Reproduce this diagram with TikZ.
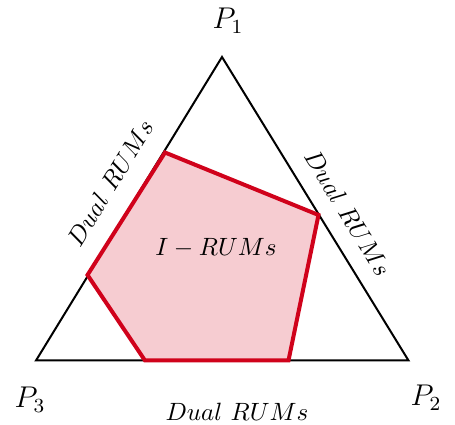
\documentclass[tikz,border=0pt]{standalone}
\usepackage{amsmath}
\usepackage{tikz}
\usetikzlibrary{positioning}
\definecolor{RUM_Red}{HTML}{D0021B}

\begin{document}
\begin{tikzpicture}[x=0.4pt, y=-0.4pt]
\useasboundingbox (0,0) rectangle (455,425);
% --- Simplex of the three alternatives ---
\coordinate (P1) at (222,57);
\coordinate (P2) at (408.5,360.5);
\coordinate (P3) at (36,360.5);
\draw[line width=0.8pt, line join=miter] (P1) -- (P2) -- (P3) -- cycle;
% --- I-RUM region ---
\coordinate (A) at (165,152.5);
\coordinate (B) at (318.5,215);
\coordinate (C) at (288.5,360.5);
\coordinate (D) at (145,360.5);
\coordinate (E) at (87.5,275);
\filldraw[draw=RUM_Red, fill=RUM_Red!20, line width=1.6pt, line join=miter]
  (A) -- (B) -- (C) -- (D) -- (E) -- cycle;
% Labels
\node[font=\large] (l1) at (228,21) {$P_1$};
\node[font=\large] (l2) at (426,398) {$P_2$};
\node[font=\large] (l3) at (30,400) {$P_3$};
\node (irum) at (216,248) {$I-RUMs$};
\node[rotate=58.5] (dleft) at (110,183) {$Dual\ RUMs$};
\node[rotate=-58.5] (dright) at (348,213) {$Dual\ RUMs$};
\node (dbottom) at (237,412) {$Dual\ RUMs$};
\end{tikzpicture}
\end{document}
